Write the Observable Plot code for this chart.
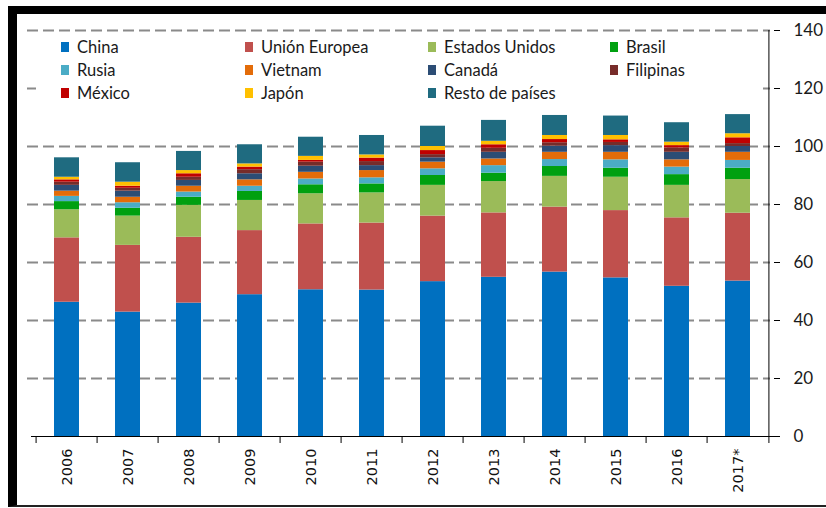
<!DOCTYPE html>
<html><head><meta charset="utf-8">
<script src="https://cdn.jsdelivr.net/npm/d3@7"></script>
<script src="https://cdn.jsdelivr.net/npm/@observablehq/plot@0.6"></script>
<style>
html,body{margin:0;padding:0;background:#fff;}
#wrap{position:relative;width:826px;height:508px;overflow:hidden;background:#fff;}
#chart{position:absolute;left:0;top:0;}
#frame{position:absolute;left:8px;top:6px;width:830px;height:501px;border-top:8px solid #000;border-left:9px solid #000;border-bottom:2px solid #222;box-sizing:border-box;}
#legend{position:absolute;left:36px;top:35px;width:724px;height:70px;background:#fff;display:grid;grid-template-columns:184px 183px 182px auto;grid-auto-rows:23px;padding-left:25px;box-sizing:border-box;font-family:Lato,sans-serif;font-size:16.5px;color:#1a1a1a;}
.item{display:flex;align-items:center;white-space:nowrap;}
.sw{width:8px;height:10px;margin-right:8px;flex:none;}
#chart g[aria-label="x-axis tick label"] text{font-family:"DejaVu Sans",Verdana,sans-serif !important;font-size:14.5px !important;fill:#111;}
#chart g[aria-label="y-axis tick label"] text{font-family:Lato,sans-serif !important;font-size:17px !important;fill:#1a1a1a;}
</style>
</head><body>
<div id="wrap">
  <div id="chart"></div>
  <div id="legend"></div>
  <div id="frame"></div>
</div>
<script>
const years = ["2006","2007","2008","2009","2010","2011","2012","2013","2014","2015","2016","2017*"];
const seriesNames = ["China","Unión Europea","Estados Unidos","Brasil","Rusia","Vietnam","Canadá","Filipinas","México","Japón","Resto de países"];
const seriesColors = ["#0070C0","#C0504D","#9BBB59","#00A010","#4BACC6","#E36C09","#2C4D75","#772C2A","#C00000","#FFC000","#1F6B80"];
const china         = [46.3, 42.9, 46.0, 48.9, 50.6, 50.5, 53.4, 54.9, 56.7, 54.7, 51.8, 53.6];
const unionEuropea  = [22.2, 23.0, 22.7, 22.1, 22.7, 23.1, 22.6, 22.2, 22.4, 23.2, 23.6, 23.4];
const estadosUnidos = [9.7, 10.1, 11.0, 10.4, 10.4, 10.4, 10.6, 10.8, 10.6, 11.5, 11.2, 11.6];
const brasil        = [2.8, 2.7, 2.8, 3.1, 3.1, 3.1, 3.4, 2.9, 3.4, 3.1, 3.7, 3.9];
const rusia         = [1.8, 1.9, 1.8, 1.8, 2.0, 2.1, 2.3, 2.6, 2.4, 2.9, 2.6, 2.7];
const vietnam       = [1.8, 1.9, 2.0, 2.2, 2.3, 2.5, 2.3, 2.3, 2.5, 2.6, 2.5, 2.8];
const canada        = [2.0, 2.1, 2.0, 2.1, 2.1, 1.7, 1.5, 2.3, 2.1, 2.3, 2.6, 2.0];
const filipinas     = [1.1, 1.0, 1.1, 1.4, 1.4, 1.4, 1.1, 1.4, 1.2, 1.1, 1.5, 1.0];
const mexico        = [0.8, 0.7, 1.2, 0.9, 0.6, 1.2, 1.4, 1.2, 1.1, 0.9, 0.8, 2.0];
const japon         = [0.9, 1.4, 1.1, 1.1, 1.4, 1.1, 1.4, 1.2, 1.4, 1.5, 1.2, 1.4];
const resto         = [6.7, 6.7, 6.6, 6.6, 6.6, 6.7, 7.0, 7.2, 6.9, 6.7, 6.7, 6.6];
const yTicks = [0, 20, 40, 60, 80, 100, 120, 140];
const gridTicks = [20, 40, 60, 80, 100, 120, 140];

const seriesValues = [china, unionEuropea, estadosUnidos, brasil, rusia, vietnam, canada, filipinas, mexico, japon, resto];
const table = [];
years.forEach((yr, i) => {
  seriesNames.forEach((s, k) => table.push({year: yr, series: s, value: seriesValues[k][i]}));
});

const W = 826, H = 508, ML = 31, MR = 53, MT = 30, MB = 72;
const step = (W - ML - MR) / years.length;

const chart = Plot.plot({
  width: W, height: H,
  marginLeft: ML, marginRight: MR, marginTop: MT, marginBottom: MB,
  style: {background: "transparent", color: "#1a1a1a", overflow: "visible", fontFamily: "DejaVu Sans"},
  x: {domain: years, paddingInner: 0.585, paddingOuter: 0.2925, label: null},
  y: {domain: [0, 140], label: null},
  color: {domain: seriesNames, range: seriesColors},
  marks: [
    Plot.ruleY(gridTicks, {stroke: "#8a8a8a", strokeWidth: 2, strokeDasharray: "11,5", insetLeft: -4, insetRight: 3}),
    Plot.barY(table, {x: "year", y: "value", fill: "series"}),
    Plot.ruleY([0], {stroke: "#000", strokeWidth: 1, insetRight: -6}),
    Plot.ruleX(years.slice(-1), {x: d => d, dx: step / 2, stroke: "#000", strokeWidth: 1}),
    Plot.ruleX(years, {x: d => d, y1: 0, y2: 0, dx: -step / 2, insetBottom: -7, stroke: "#000"}),
    Plot.ruleX(years.slice(-1), {x: d => d, y1: 0, y2: 0, dx: step / 2, insetBottom: -7, stroke: "#000"}),
    Plot.axisY(yTicks, {anchor: "right", tickSize: 6, tickPadding: 14, fontSize: 17, fontFamily: "Lato", tickFormat: d => d, stroke: "#000", label: null}),
    Plot.axisX({tickRotate: -90, tickSize: 0, tickPadding: 12, fontSize: 14.5, fontFamily: "DejaVu Sans", fill: "#111", label: null})
  ]
});
document.getElementById("chart").appendChild(chart);

const legend = document.getElementById("legend");
seriesNames.forEach((s, k) => {
  const it = document.createElement("div");
  it.className = "item";
  const sw = document.createElement("span");
  sw.className = "sw";
  sw.style.background = seriesColors[k];
  const tx = document.createElement("span");
  tx.textContent = s;
  it.appendChild(sw); it.appendChild(tx);
  legend.appendChild(it);
});
</script>
</body></html>
